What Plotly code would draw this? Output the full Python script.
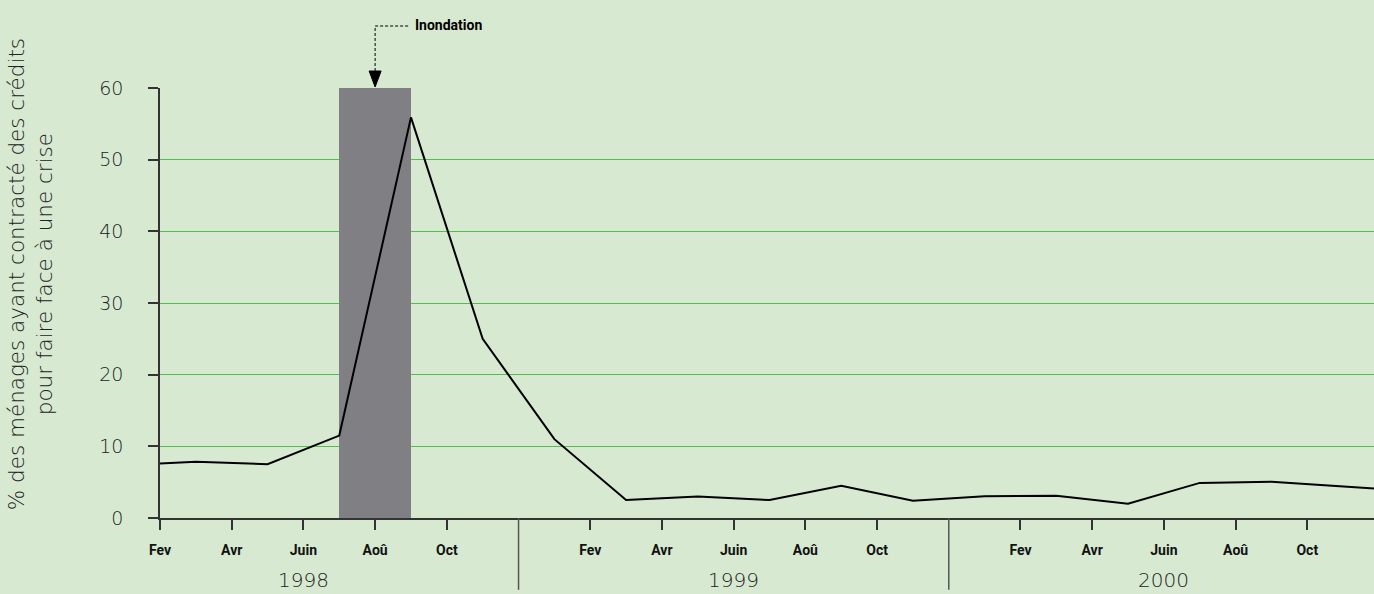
import plotly.graph_objects as go

# ---- data ----
periods = ["1998-02", "1998-03", "1998-05", "1998-07", "1998-09", "1998-11",
           "1999-01", "1999-03", "1999-05", "1999-07", "1999-09", "1999-11",
           "2000-01", "2000-03", "2000-05", "2000-07", "2000-09", "2000-11", "2001-01"]
values = [7.6, 7.85, 7.5, 11.5, 55.9, 25.0,
          11.0, 2.5, 3.0, 2.5, 4.5, 2.4,
          3.05, 3.1, 2.0, 4.9, 5.05, 4.4, 3.75]

tick_periods = ["1998-02", "1998-04", "1998-06", "1998-08", "1998-10",
                "1999-02", "1999-04", "1999-06", "1999-08", "1999-10",
                "2000-02", "2000-04", "2000-06", "2000-08", "2000-10"]
tick_labels = ["Fev", "Avr", "Juin", "Aoû", "Oct"] * 3

years = ["1998", "1999", "2000"]
year_label_periods = ["1998-06", "1999-06", "2000-06"]
year_divider_periods = ["1998-12", "1999-12"]

flood_start, flood_end = "1998-07", "1998-09"
flood_label = "Inondation"
y_max = 60
y_title = "% des ménages ayant contracté des crédits<br>pour faire face à une crise"


def idx(p):
    y, m = p.split("-")
    return (int(y) - 1998) * 12 + int(m) - 2


x_vals = [idx(p) for p in periods]
fs, fe = idx(flood_start), idx(flood_end)

BG = "#d7e9d1"
GRID = "#55bd50"
AX = "#333333"
NARROW = "Roboto, Liberation Sans, sans-serif"
LIGHT = "DejaVu Sans, sans-serif"

fig = go.Figure()
fig.add_trace(go.Bar(x=[(fs + fe) / 2], y=[y_max], width=[fe - fs],
                     marker=dict(color="#808084", line=dict(width=0)),
                     hoverinfo="skip", showlegend=False))
fig.add_trace(go.Scatter(x=x_vals, y=values, mode="lines",
                         line=dict(color="black", width=2), showlegend=False))

shapes = []
for p in year_divider_periods:
    shapes.append(dict(type="line", xref="x", yref="paper", x0=idx(p), x1=idx(p),
                       y0=0, y1=-0.167, line=dict(color="#555555", width=1.5)))
# arrow head + dashed leader (paper y so it is not clipped)
ac = (fs + fe) / 2
shapes.append(dict(type="path", xref="x", yref="paper", xsizemode="pixel", ysizemode="pixel",
                   xanchor=ac, yanchor=1, path="M-6,17 L6,17 L0,1 Z",
                   fillcolor="black", line=dict(color="black", width=1)))
shapes.append(dict(type="path", xref="x", yref="paper", xsizemode="pixel", ysizemode="pixel",
                   xanchor=ac, yanchor=1, path="M0,17 L0,62 L34,62",
                   line=dict(color="black", width=1, dash="3px,2px")))

annotations = []
for yr, p in zip(years, year_label_periods):
    annotations.append(dict(x=idx(p), y=0, xref="x", yref="paper", yshift=-62,
                            text=yr, showarrow=False, yanchor="middle",
                            font=dict(family=LIGHT, size=20, color="#222222", weight=200)))
annotations.append(dict(x=ac, y=y_max, xref="x", yref="y", xshift=38, yshift=63,
                        text="<b>" + flood_label + "</b>", showarrow=False,
                        xanchor="left", yanchor="middle",
                        font=dict(family=NARROW, size=14, color="black")))
annotations.append(dict(x=0, y=0.567, xref="paper", yref="paper", xshift=-130,
                        text=y_title, showarrow=False, textangle=-90,
                        xanchor="center", yanchor="middle",
                        font=dict(family=LIGHT, size=21.5, color="#222222", weight=200)))

fig.update_layout(
    width=1374, height=594,
    paper_bgcolor=BG, plot_bgcolor=BG,
    margin=dict(l=160, r=0, t=88, b=76),
    bargap=0,
    shapes=shapes, annotations=annotations,
    xaxis=dict(range=[0, 33.86], tickmode="array",
               tickvals=[idx(p) for p in tick_periods],
               ticktext=["<b>" + t + "</b>" for t in tick_labels],
               ticks="outside", ticklen=10, tickcolor=AX, tickwidth=1.5,
               showline=True, linecolor=AX, linewidth=1.5,
               showgrid=False, zeroline=False, ticklabelstandoff=8,
               tickfont=dict(family=NARROW, size=14, color="#111111")),
    yaxis=dict(range=[0, y_max], tickvals=[0, 10, 20, 30, 40, 50, 60],
               ticks="outside", ticklen=10, tickcolor=AX, tickwidth=1.5,
               showline=True, linecolor=AX, linewidth=1.5,
               showgrid=True, gridcolor=GRID, gridwidth=1, zeroline=False,
               ticklabelstandoff=21,
               tickfont=dict(family=LIGHT, size=19, color="#222222", weight=200)),
)

fig.write_html("out.html", config={"displayModeBar": False},
               post_script="document.body.style.margin='0';document.body.style.padding='0';")
